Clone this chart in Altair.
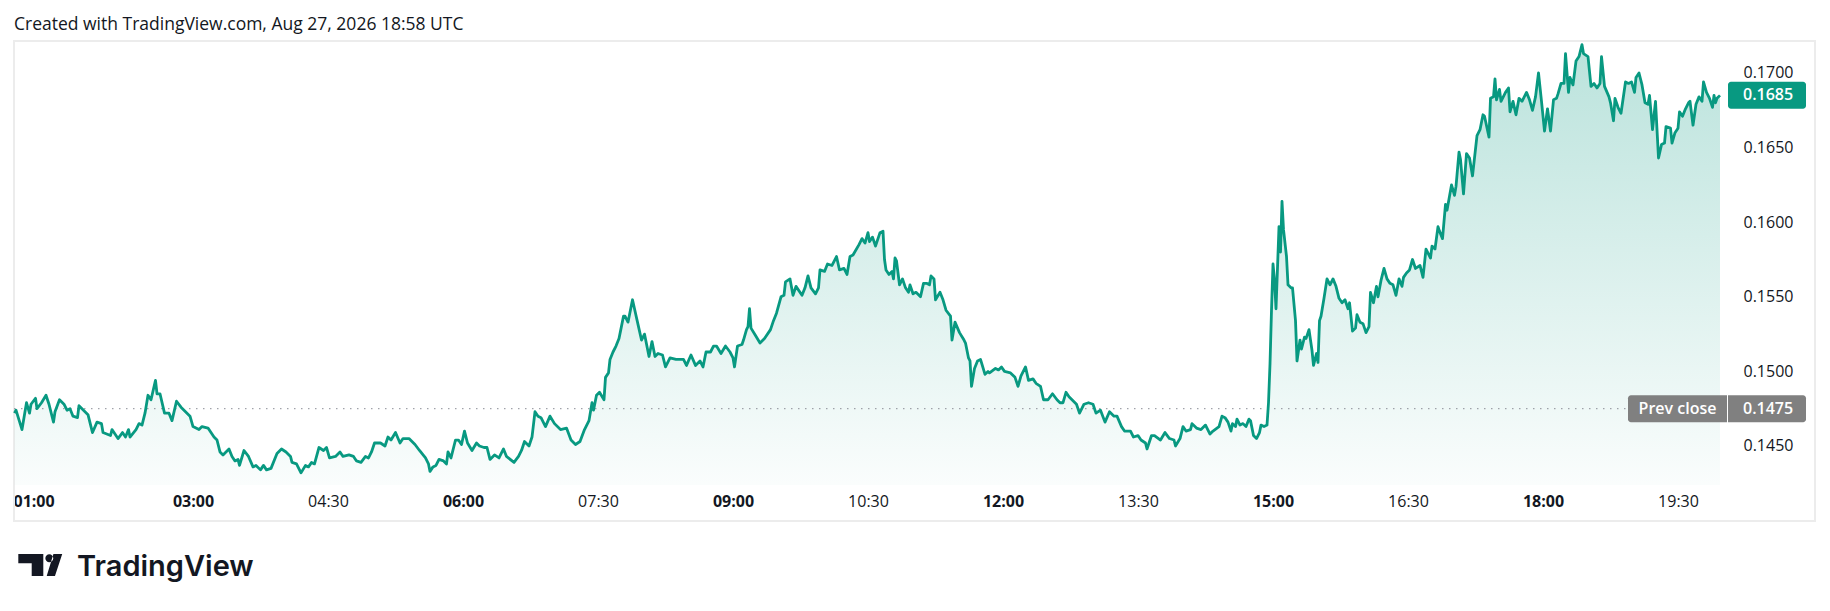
import altair as alt
import pandas as pd

# ---- data (minutes since 00:00, price) ----
times_a = [61, 62, 66, 69, 71, 72, 75, 76, 79, 82,
           84, 87, 88, 91, 94, 96, 98, 100, 103, 104,
           107, 110, 111, 113, 116, 119, 120, 125, 126, 130,
           133, 135, 137, 138, 142, 144, 146, 148, 150, 152,
           155, 156, 158, 161, 164, 166, 169, 172, 175, 178,
           180, 184, 186, 190, 194, 196, 198, 200, 204, 206,
           208, 210, 211, 214, 217, 220, 222, 225, 227, 229,
           232, 236, 239, 242, 245, 246, 249, 252, 255, 257,
           259, 261, 264, 267, 269, 271, 275, 278, 280, 284,
           287, 289, 292, 295, 297, 299, 301, 305, 308, 310,
           312, 315, 318, 320, 324, 328, 331, 335, 337, 338,
           340, 342, 344]
prices_a = [0.1472, 0.1474, 0.1461, 0.1479, 0.1472, 0.1478, 0.1482, 0.1475, 0.1479, 0.1484,
            0.1478, 0.1466, 0.1473, 0.1481, 0.1478, 0.1474, 0.1475, 0.1470, 0.1469, 0.1477,
            0.1474, 0.1471, 0.1467, 0.1459, 0.1466, 0.1465, 0.1459, 0.1457, 0.1461, 0.1455,
            0.1459, 0.1456, 0.1461, 0.1456, 0.1461, 0.1465, 0.1464, 0.1472, 0.1484, 0.1481,
            0.1494, 0.1485, 0.1485, 0.1472, 0.1472, 0.1467, 0.1480, 0.1476, 0.1473, 0.1470,
            0.1463, 0.1461, 0.1463, 0.1462, 0.1456, 0.1454, 0.1446, 0.1444, 0.1448, 0.1443,
            0.1440, 0.1441, 0.1437, 0.1447, 0.1443, 0.1436, 0.1437, 0.1434, 0.1437, 0.1434,
            0.1435, 0.1445, 0.1448, 0.1446, 0.1443, 0.1439, 0.1438, 0.1432, 0.1437, 0.1436,
            0.1439, 0.1438, 0.1449, 0.1447, 0.1449, 0.1442, 0.1443, 0.1446, 0.1443, 0.1444,
            0.1443, 0.1440, 0.1439, 0.1443, 0.1442, 0.1446, 0.1452, 0.1452, 0.1450, 0.1456,
            0.1454, 0.1459, 0.1452, 0.1455, 0.1455, 0.1451, 0.1447, 0.1442, 0.1438, 0.1433,
            0.1436, 0.1437, 0.1441]

times_b = [347, 349, 350, 352, 355, 357, 359, 361, 363, 366,
           369, 371, 374, 376, 378, 381, 384, 387, 389, 394,
           397, 399, 401, 404, 406, 408, 410, 412, 415, 418,
           421, 425, 429, 432, 435, 438, 441, 444, 446, 447,
           449, 451, 454, 455, 457, 458, 460, 462, 464, 465,
           467, 468, 470, 473, 475, 477, 479, 481, 484, 486,
           488, 490, 493, 495, 498, 502, 507, 509, 512, 515,
           518, 520, 522, 525, 527, 529, 532, 535, 538, 540,
           541, 543, 546, 547, 549, 550, 551, 552, 555, 558,
           561, 565, 567, 569, 572, 574, 575, 578, 580, 582,
           586, 588, 590, 592, 595, 597, 598, 601, 603, 606,
           609, 611, 614, 616, 618, 620, 624, 626, 628, 630,
           631, 633, 635, 637]
prices_b = [0.1440, 0.1438, 0.1446, 0.1442, 0.1454, 0.1454, 0.1451, 0.1460, 0.1452, 0.1447,
            0.1452, 0.1450, 0.1449, 0.1449, 0.1441, 0.1444, 0.1442, 0.1448, 0.1443, 0.1439,
            0.1443, 0.1447, 0.1453, 0.1450, 0.1456, 0.1473, 0.1470, 0.1469, 0.1463, 0.1470,
            0.1465, 0.1461, 0.1462, 0.1454, 0.1451, 0.1453, 0.1461, 0.1467, 0.1479, 0.1474,
            0.1484, 0.1486, 0.1481, 0.1496, 0.1499, 0.1508, 0.1513, 0.1517, 0.1522, 0.1527,
            0.1537, 0.1537, 0.1533, 0.1548, 0.1539, 0.1530, 0.1521, 0.1525, 0.1510, 0.1520,
            0.1510, 0.1512, 0.1511, 0.1503, 0.1509, 0.1508, 0.1508, 0.1504, 0.1511, 0.1504,
            0.1507, 0.1503, 0.1513, 0.1513, 0.1517, 0.1517, 0.1512, 0.1517, 0.1513, 0.1509,
            0.1503, 0.1517, 0.1518, 0.1521, 0.1528, 0.1530, 0.1542, 0.1529, 0.1524, 0.1519,
            0.1522, 0.1528, 0.1534, 0.1539, 0.1550, 0.1551, 0.1560, 0.1562, 0.1551, 0.1557,
            0.1551, 0.1556, 0.1564, 0.1556, 0.1552, 0.1556, 0.1568, 0.1567, 0.1572, 0.1571,
            0.1577, 0.1568, 0.1569, 0.1565, 0.1577, 0.1578, 0.1585, 0.1589, 0.1586, 0.1593,
            0.1587, 0.1590, 0.1584, 0.1590]

times_c = [638, 640, 641, 642, 644, 646, 647, 648, 649, 651,
           653, 655, 657, 658, 660, 662, 665, 667, 669, 671,
           672, 674, 675, 678, 680, 682, 685, 686, 688, 691,
           694, 695, 697, 698, 699, 701, 703, 705, 708, 710,
           711, 715, 717, 719, 721, 725, 728, 730, 732, 735,
           737, 740, 742, 745, 747, 750, 753, 756, 758, 760,
           762, 764, 766, 769, 771, 774, 777, 780, 782, 785,
           788, 791, 794, 796, 799, 801, 805, 807, 810, 812,
           815, 816, 819, 821, 825, 828, 831, 834, 835, 838,
           840, 842, 845, 846, 849, 852, 855, 858, 860, 864,
           866, 868, 870, 872, 873, 875, 876, 878, 880, 882,
           884, 885, 887, 889, 891, 892, 894, 896, 897, 898,
           899, 900, 901, 902, 904, 905, 906, 907, 909, 910,
           912, 913, 915, 916, 918, 919, 921, 922, 924, 926,
           927, 929, 930, 931]
prices_c = [0.1593, 0.1594, 0.1575, 0.1568, 0.1565, 0.1567, 0.1562, 0.1576, 0.1574, 0.1558,
            0.1562, 0.1556, 0.1553, 0.1558, 0.1552, 0.1553, 0.1550, 0.1559, 0.1559, 0.1558,
            0.1564, 0.1562, 0.1548, 0.1553, 0.1548, 0.1541, 0.1537, 0.1521, 0.1533, 0.1526,
            0.1521, 0.1519, 0.1509, 0.1507, 0.1490, 0.1502, 0.1507, 0.1508, 0.1498, 0.1500,
            0.1499, 0.1502, 0.1501, 0.1503, 0.1500, 0.1499, 0.1496, 0.1490, 0.1497, 0.1503,
            0.1494, 0.1495, 0.1492, 0.1490, 0.1481, 0.1481, 0.1485, 0.1481, 0.1479, 0.1479,
            0.1486, 0.1483, 0.1481, 0.1478, 0.1472, 0.1478, 0.1479, 0.1478, 0.1472, 0.1474,
            0.1466, 0.1473, 0.1470, 0.1470, 0.1463, 0.1460, 0.1460, 0.1456, 0.1457, 0.1454,
            0.1452, 0.1448, 0.1457, 0.1457, 0.1454, 0.1459, 0.1455, 0.1454, 0.1450, 0.1455,
            0.1463, 0.1460, 0.1461, 0.1465, 0.1462, 0.1461, 0.1464, 0.1458, 0.1460, 0.1463,
            0.1470, 0.1469, 0.1466, 0.1460, 0.1465, 0.1463, 0.1468, 0.1464, 0.1465, 0.1463,
            0.1468, 0.1467, 0.1457, 0.1455, 0.1459, 0.1464, 0.1463, 0.1464, 0.1479, 0.1505,
            0.1541, 0.1572, 0.1561, 0.1542, 0.1597, 0.1580, 0.1614, 0.1595, 0.1577, 0.1558,
            0.1556, 0.1556, 0.1534, 0.1507, 0.1521, 0.1515, 0.1523, 0.1522, 0.1528, 0.1514,
            0.1504, 0.1512, 0.1506, 0.1534]

times_d = [932, 934, 936, 938, 940, 942, 944, 946, 948, 950,
           951, 953, 955, 956, 958, 960, 962, 964, 965, 967,
           969, 970, 972, 974, 976, 978, 980, 982, 984, 986,
           987, 989, 991, 993, 995, 998, 1000, 1002, 1005, 1006,
           1008, 1010, 1011, 1013, 1015, 1016, 1019, 1021, 1022, 1024,
           1025, 1027, 1029, 1031, 1033, 1036, 1038, 1040, 1041, 1044,
           1045, 1047, 1048, 1049, 1051, 1052, 1055, 1057, 1058, 1060,
           1062, 1064, 1066, 1069, 1071, 1073, 1075, 1077, 1079, 1081,
           1083, 1085, 1087, 1089, 1090, 1092, 1094, 1095, 1097, 1098,
           1100, 1102, 1104, 1106, 1107, 1110, 1112, 1114, 1116, 1118,
           1119, 1121, 1124, 1125, 1127, 1128, 1130, 1132, 1135, 1137,
           1139, 1141, 1142, 1144, 1146, 1148, 1150, 1151, 1153, 1155,
           1157, 1159, 1161, 1162, 1165, 1166, 1168, 1170, 1171, 1173,
           1175, 1177, 1178, 1180, 1182, 1184, 1186, 1187, 1189, 1191,
           1193, 1194, 1195, 1196, 1198]
prices_d = [0.1537, 0.1549, 0.1562, 0.1558, 0.1562, 0.1557, 0.1549, 0.1546, 0.1548, 0.1542,
            0.1546, 0.1527, 0.1529, 0.1538, 0.1533, 0.1532, 0.1526, 0.1530, 0.1553, 0.1546,
            0.1557, 0.1550, 0.1561, 0.1569, 0.1562, 0.1559, 0.1558, 0.1551, 0.1562, 0.1557,
            0.1563, 0.1566, 0.1568, 0.1575, 0.1569, 0.1571, 0.1563, 0.1582, 0.1576, 0.1584,
            0.1582, 0.1597, 0.1594, 0.1589, 0.1612, 0.1608, 0.1625, 0.1618, 0.1624, 0.1647,
            0.1642, 0.1619, 0.1646, 0.1643, 0.1631, 0.1658, 0.1662, 0.1672, 0.1671, 0.1657,
            0.1683, 0.1684, 0.1696, 0.1682, 0.1689, 0.1681, 0.1687, 0.1690, 0.1674, 0.1681,
            0.1672, 0.1683, 0.1681, 0.1687, 0.1682, 0.1675, 0.1684, 0.1700, 0.1681, 0.1661,
            0.1676, 0.1661, 0.1682, 0.1683, 0.1686, 0.1693, 0.1693, 0.1713, 0.1687, 0.1697,
            0.1692, 0.1708, 0.1711, 0.1719, 0.1713, 0.1711, 0.1691, 0.1693, 0.1690, 0.1693,
            0.1711, 0.1691, 0.1684, 0.1680, 0.1668, 0.1683, 0.1677, 0.1673, 0.1694, 0.1693,
            0.1694, 0.1687, 0.1697, 0.1700, 0.1692, 0.1680, 0.1679, 0.1685, 0.1662, 0.1681,
            0.1643, 0.1652, 0.1653, 0.1664, 0.1663, 0.1653, 0.1660, 0.1663, 0.1674, 0.1671,
            0.1676, 0.1680, 0.1681, 0.1665, 0.1679, 0.1684, 0.1681, 0.1694, 0.1687, 0.1683,
            0.1677, 0.1685, 0.1680, 0.1683, 0.1685]

price_ticks = [0.1450, 0.1500, 0.1550, 0.1600, 0.1650, 0.1700]
time_ticks = [60, 180, 270, 360, 450, 540, 630, 720, 810, 900, 990, 1080, 1170]
prev_close = [0.1475]
last_price = [0.1685]
prev_label = ["Prev close"]
header_text = ["Created with TradingView.com, Aug 27, 2026 18:58 UTC"]
brand_text = ["TradingView"]

# ---- build table ----
df = pd.DataFrame({
    "minute": times_a + times_b + times_c + times_d,
    "price": prices_a + prices_b + prices_c + prices_d,
})

Y_LO, Y_HI = 0.142386, 0.172144
X_LO, X_HI = 60, 1201.33
W, H = 1712, 444

FONT = "Open Sans"
TXT = "#131722"
GREEN = "#089981"
GREY = "#808080"

xscale = alt.Scale(domain=[X_LO, X_HI], nice=False, zero=False)
yscale = alt.Scale(domain=[Y_LO, Y_HI], nice=False, zero=False)

label_expr = ("(floor(datum.value/60) < 10 ? '0' : '') + floor(datum.value/60) + ':' + "
              "(datum.value % 60 < 10 ? '0' : '') + (datum.value % 60)")

x_axis = alt.Axis(values=time_ticks, labelExpr=label_expr, title=None, ticks=False,
                  domain=False, grid=False, labelFont=FONT, labelFontSize=16,
                  labelColor=TXT, labelPadding=16, labelBaseline="middle",
                  labelFlush=True, labelOverlap=False, labelBound=False,
                  labelFontWeight={"condition": {"test": "datum.value % 60 == 0", "value": "bold"},
                                   "value": "normal"})
y_axis = alt.Axis(orient="right", values=price_ticks, format=".4f", title=None, ticks=False,
                  domain=False, grid=False, labelFont=FONT, labelFontSize=16,
                  labelColor=TXT, labelAlign="left", labelPadding=18, labelOverlap=False,
                  labelBaseline="middle")

X = alt.X("minute:Q", scale=xscale, axis=x_axis)
Y = alt.Y("price:Q", scale=yscale, axis=y_axis)
YV = alt.Y("v:Q", scale=yscale, axis=y_axis)

gradient = alt.Gradient(
    gradient="linear",
    stops=[alt.GradientStop(color="rgba(8,153,129,0.28)", offset=0),
           alt.GradientStop(color="rgba(8,153,129,0.02)", offset=1)],
    x1=1, x2=1, y1=0, y2=1)

base = alt.Chart(df)
area = base.mark_area(color=gradient).encode(x=X, y=Y, y2=alt.datum(Y_LO))
line = base.mark_line(color=GREEN, strokeWidth=2.8, strokeJoin="round").encode(x=X, y=Y)

pc_df = pd.DataFrame({"v": prev_close, "lab": prev_label})
lp_df = pd.DataFrame({"v": last_price})

prev_rule = alt.Chart(pc_df).mark_rule(color="#8a8d95", strokeWidth=1, strokeDash=[1.5, 5.5]).encode(
    y=YV, x=alt.value(1), x2=alt.value(1615))

prev_box1 = alt.Chart(pc_df).mark_rect(color=GREY, yOffset=-13.5, y2Offset=13.5,
                                       cornerRadiusTopLeft=3, cornerRadiusBottomLeft=3).encode(
    y=YV, y2="v:Q", x=alt.value(1615), x2=alt.value(1714))
prev_box2 = alt.Chart(pc_df).mark_rect(color=GREY, yOffset=-13.5, y2Offset=13.5,
                                       cornerRadiusTopRight=3, cornerRadiusBottomRight=3).encode(
    y=YV, y2="v:Q", x=alt.value(1715), x2=alt.value(1793))
prev_txt1 = alt.Chart(pc_df).mark_text(color="white", font=FONT, fontSize=16, align="center",
                                       baseline="middle", fontWeight=600).encode(
    y=YV, x=alt.value(1664.5), text="lab:N")
prev_txt2 = alt.Chart(pc_df).mark_text(color="white", font=FONT, fontSize=16, align="left",
                                       baseline="middle", fontWeight=600).encode(
    y=YV, x=alt.value(1730), text=alt.Text("v:Q", format=".4f"))

last_box = alt.Chart(lp_df).mark_rect(color=GREEN, yOffset=-13.5, y2Offset=13.5, cornerRadius=3).encode(
    y=YV, y2="v:Q", x=alt.value(1715), x2=alt.value(1793))
last_txt = alt.Chart(lp_df).mark_text(color="white", font=FONT, fontSize=16, align="left",
                                      baseline="middle", fontWeight=600).encode(
    y=YV, x=alt.value(1730), text=alt.Text("v:Q", format=".4f"))

frame = alt.Chart(pd.DataFrame({"k": [0]})).mark_rect(fill="transparent", stroke="#ececec",
                                                      strokeWidth=2).encode(
    x=alt.value(1), x2=alt.value(1802), y=alt.value(0), y2=alt.value(480))

header = alt.Chart(pd.DataFrame({"t": header_text})).mark_text(
    font=FONT, fontSize=17.5, color=TXT, align="left", baseline="alphabetic").encode(
    x=alt.value(1), y=alt.value(-11.5), text="t:N")

logo_path = ("M-0.986,-0.5 L0.15,-0.5 L0.15,0.5 L-0.377,0.5 L-0.377,-0.077 L-0.986,-0.077 Z "
             "M0.243,-0.305 A0.18,0.18 0 1,0 0.603,-0.305 A0.18,0.18 0 1,0 0.243,-0.305 Z "
             "M0.61,-0.5 L1.01,-0.5 L0.68,0.5 L0.305,0.5 Z")
logo_icon = alt.Chart(pd.DataFrame({"k": [0]})).mark_point(
    shape=logo_path, filled=True, size=1936, color=TXT, opacity=1, strokeWidth=0).encode(
    x=alt.value(27), y=alt.value(524))
logo_text = alt.Chart(pd.DataFrame({"t": brand_text})).mark_text(
    font="Inter", fontSize=29, fontWeight=600, color=TXT, align="left", baseline="alphabetic").encode(
    x=alt.value(64), y=alt.value(535), text="t:N")

chart = alt.layer(
    frame, area, prev_rule, line, prev_box1, prev_box2, prev_txt1, prev_txt2,
    last_box, last_txt, header, logo_icon, logo_text
).properties(
    width=W, height=H,
    autosize=alt.AutoSizeParams(type="none"),
    padding={"left": 5, "top": 33, "right": 97, "bottom": 118},
    background="white",
).configure_view(strokeWidth=0)

chart.save("out.html", embed_options={"renderer": "svg", "actions": False})
